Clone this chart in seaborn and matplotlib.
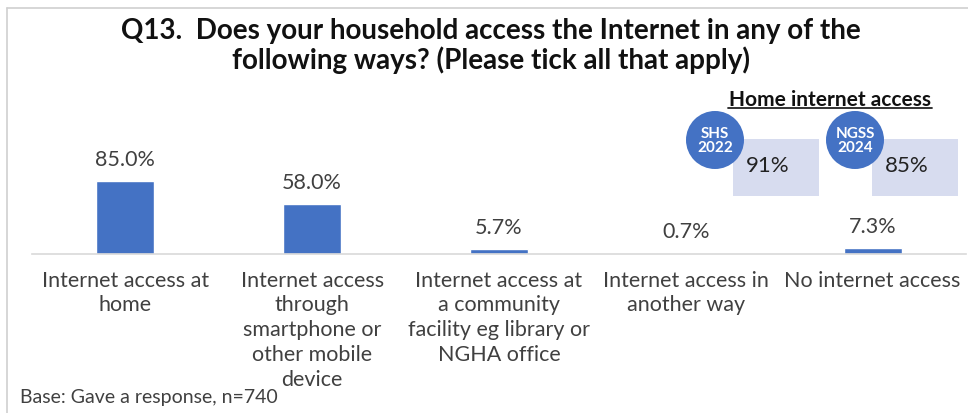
import matplotlib
matplotlib.use("Agg")
import matplotlib.pyplot as plt
import seaborn as sns
import pandas as pd
from matplotlib.patches import Circle, Rectangle

# Survey results
categories = [
    "Internet access at\nhome",
    "Internet access\nthrough\nsmartphone or\nother mobile\ndevice",
    "Internet access at\na community\nfacility eg library or\nNGHA office",
    "Internet access in\nanother way",
    "No internet access",
]
values = [85.0, 58.0, 5.7, 0.7, 7.3]

# Home internet access comparison
bench_names = ["SHS\n2022", "NGSS\n2024"]
bench_values = [91, 85]

title = "Q13.  Does your household access the Internet in any of the\nfollowing ways? (Please tick all that apply)"
base_note = "Base: Gave a response, n=740"

sns.set_theme(style="white")
plt.rcParams["font.family"] = ["Lato", "DejaVu Sans"]

W, H = 968, 413
BLUE = "#4472C4"
TXT = "#404040"

fig = plt.figure(figsize=(W / 100, H / 100), dpi=100)

# main bar axes, positioned in pixel terms
ax_left, ax_right, ax_base, ax_top = 32, 966, 254, 120
ax = fig.add_axes([ax_left / W, (H - ax_base) / H,
                   (ax_right - ax_left) / W, (ax_base - ax_top) / H])
df = pd.DataFrame({"cat": categories, "val": values})
sns.barplot(data=df, x="cat", y="val", color=BLUE, width=0.31,
            saturation=1, ax=ax)
ax.set_xlim(-0.5, len(categories) - 0.5)
ax.set_ylim(0, (ax_base - ax_top) / 0.86)
ax.set_xlabel("")
ax.set_ylabel("")
ax.set_yticks([])
for s in ["top", "right", "left"]:
    ax.spines[s].set_visible(False)
ax.spines["bottom"].set_color("#D9D9D9")
ax.spines["bottom"].set_linewidth(1.2)
ax.tick_params(axis="x", length=0, pad=12)
for lbl in ax.get_xticklabels():
    lbl.set_fontsize(15.5)
    lbl.set_color(TXT)
    lbl.set_linespacing(1.3)
    lbl.set_va("top")
for i, v in enumerate(values):
    ax.annotate(f"{v:.1f}%", (i, v), xytext=(0, 8), textcoords="offset points",
                ha="center", va="bottom", fontsize=15.5, color=TXT)

# overlay in pixel coordinates for decorations
ov = fig.add_axes([0, 0, 1, 1], zorder=5)
ov.set_xlim(0, W)
ov.set_ylim(H, 0)
ov.axis("off")
ov.patch.set_alpha(0)

# panel frame
ov.plot([7, 7], [H + 5, 8], color="#D0D0D0", lw=1.2)
ov.plot([7, W + 5], [8, 8], color="#D0D0D0", lw=1.2)

ov.text(491, 46, title, ha="center", va="center", fontsize=20,
        fontweight="bold", color="#111111", linespacing=1.15)

ov.text(830, 100, "Home internet access", ha="center", va="center",
        fontsize=15, fontweight="bold", color="#111111")
ov.plot([728, 932], [108, 108], color="#222222", lw=1.3)

circle_x = [715, 855]
box_x = [733, 872]
for cx, bx, name, val in zip(circle_x, box_x, bench_names, bench_values):
    ov.add_patch(Rectangle((bx, 139), 86, 57, facecolor="#D7DCEF",
                           edgecolor="none", zorder=1))
    ov.add_patch(Circle((cx, 140), 29, facecolor=BLUE, edgecolor="none",
                        zorder=2))
    ov.text(cx, 141, name, ha="center", va="center", fontsize=11,
            fontweight="bold", color="white", linespacing=1.0, zorder=3)
    ov.text(bx + 35, 166, f"{val}%", ha="center", va="center",
            fontsize=16, color="#222222", zorder=3)

ov.text(20, 398, base_note, ha="left", va="center", fontsize=14, color=TXT)

fig.savefig("out.png", dpi=100)
